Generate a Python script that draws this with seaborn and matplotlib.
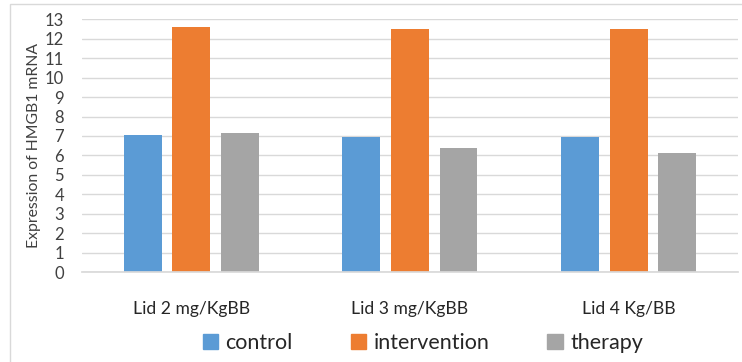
import pandas as pd
import numpy as np
import matplotlib.pyplot as plt
import seaborn as sns
from matplotlib.patches import Rectangle

# Values
doses = ['Lid 2 mg/KgBB', 'Lid 3 mg/KgBB', 'Lid 4 Kg/BB']
groups = ['control', 'intervention', 'therapy']
control = [7.03, 6.96, 6.97]
intervention = [12.62, 12.48, 12.48]
therapy = [7.17, 6.4, 6.14]
y_ticks = list(range(0, 14))

df = pd.DataFrame({
    'dose': doses * 3,
    'group': ['control'] * 3 + ['intervention'] * 3 + ['therapy'] * 3,
    'value': control + intervention + therapy,
})

colors = {'control': '#5B9BD5', 'intervention': '#ED7D31', 'therapy': '#A5A5A5'}

sns.set_theme(style="white")
plt.rcParams['font.family'] = ['Lato', 'DejaVu Sans']

fig = plt.figure(figsize=(7.42, 3.62), dpi=100)
ax = fig.add_axes([0.1105, 0.2486, 0.884, 0.698])

sns.barplot(data=df, x='dose', y='value', hue='group', hue_order=groups,
            palette=colors, width=0.666, gap=0.22, ax=ax, legend=False,
            saturation=1, edgecolor='none')

ax.set_ylim(0, 13)
ax.set_yticks(y_ticks)
ax.tick_params(axis='y', labelsize=12, length=0, pad=13, colors='#404040')
ax.tick_params(axis='x', labelsize=12.6, length=0, pad=21, colors='#262626')
ax.yaxis.grid(True, color='#D9D9D9', linewidth=1)
ax.set_axisbelow(True)
for s in ['top', 'right', 'left']:
    ax.spines[s].set_visible(False)
ax.spines['bottom'].set_color('#D9D9D9')
ax.set_xlabel('')
ax.set_ylabel('Expression of HMGB1 mRNA', fontsize=11.3, color='#404040', labelpad=3)

handles = [Rectangle((0, 0), 1, 1, color=colors[g]) for g in groups]
fig.legend(handles, groups, loc='center', bbox_to_anchor=(0.57, 0.052), ncol=3,
           frameon=False, fontsize=15.5, handlelength=0.7, handleheight=0.7,
           handletextpad=0.35, columnspacing=2.7, labelcolor='#262626')

# outer chart border
fig.patches.append(Rectangle((10 / 742, -0.1), 1.2, 1.1 - 4 / 362,
                             transform=fig.transFigure, fill=False,
                             edgecolor='#D9D9D9', linewidth=1))

plt.savefig('out.png', dpi=100)
plt.close()
